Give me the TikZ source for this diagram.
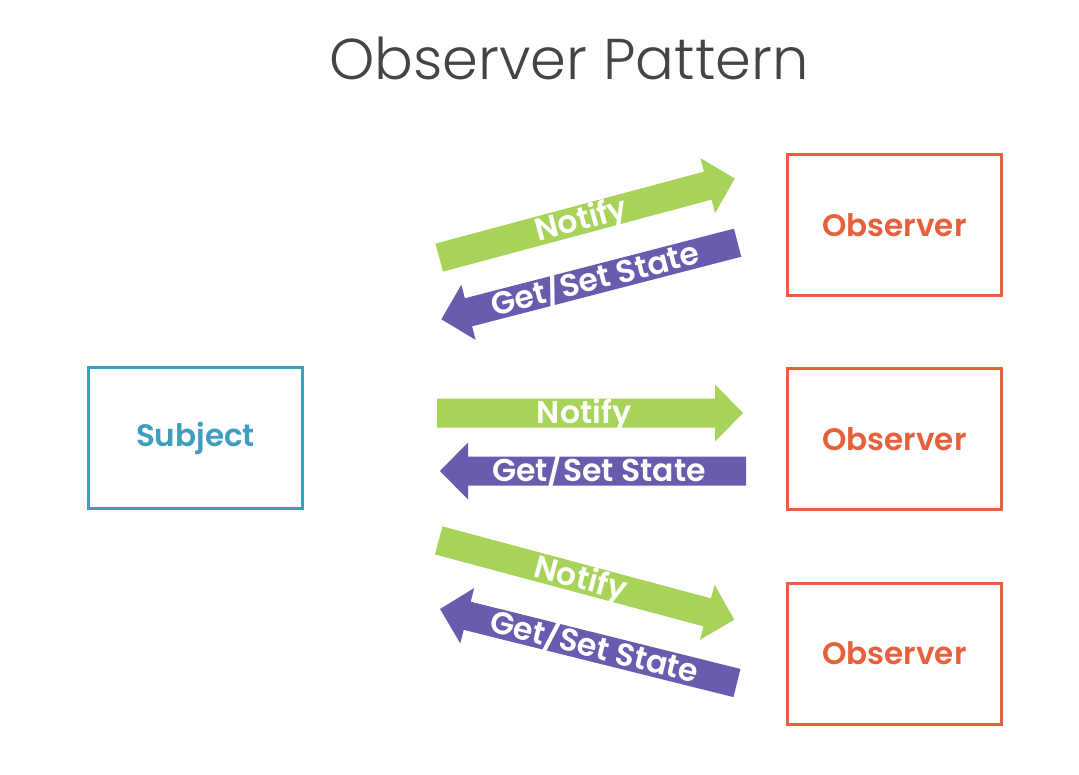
\documentclass[tikz,border=0pt]{standalone}
\usepackage{fontspec}
\setmainfont{Poppins}
\newfontfamily\titlefont{Poppins Light}
\newfontfamily\semib{Poppins SemiBold}
\definecolor{bggreen}{HTML}{A8D35B}
\definecolor{bgpurple}{HTML}{6A5BAE}
\definecolor{obsorange}{HTML}{E5603B}
\definecolor{subjteal}{HTML}{3E9EBE}
\definecolor{titlegray}{HTML}{444444}
\tikzset{
  box/.style={draw, line width=3pt, minimum width=214pt, minimum height=141pt, inner sep=0pt,
    font=\semib\fontsize{31}{35}\selectfont},
  arrowtext/.style={text=white, inner sep=0pt, text height=21pt, text depth=0pt,
    font=\semib\fontsize{31.5}{35}\selectfont},
}
\newcommand\blockarr[6]{%
  \begin{scope}[shift={#2}, rotate=#3]
    \fill[#4] (-153,-14.5) -- (125,-14.5) -- (125,-28.5) -- (153,0) -- (125,28.5) -- (125,14.5) -- (-153,14.5) -- cycle;
    \node[arrowtext, rotate=#5] (#1) at (-6,0) {#6};
  \end{scope}}
\begin{document}
\begin{tikzpicture}[x=1pt,y=-1pt]
\useasboundingbox (0,0) rectangle (1079,774);
\fill[white] (0,0) rectangle (1079,774);
\node[titlegray, inner sep=0pt, text height=40pt, text depth=0pt, font=\titlefont\fontsize{57.5}{62}\selectfont] (title) at (569,59) {Observer Pattern};
\node[box, draw=subjteal, text=subjteal] (subject) at (195.5,438) {Subject};
\node[box, draw=obsorange, text=obsorange] (obs1) at (894.5,225) {Observer};
\node[box, draw=obsorange, text=obsorange] (obs2) at (894.5,439) {Observer};
\node[box, draw=obsorange, text=obsorange] (obs3) at (894.5,653.5) {Observer};
\blockarr{n1}{(587,218)}{15}{bggreen}{15}{Notify}
\blockarr{g1}{(589.5,281)}{194.5}{bgpurple}{14.5}{Get/Set State}
\blockarr{n2}{(590,413)}{0}{bggreen}{0}{Notify}
\blockarr{g2}{(593,471)}{180}{bgpurple}{0}{Get/Set State}
\blockarr{n3}{(586.5,580)}{-15}{bggreen}{-15}{Notify}
\blockarr{g3}{(588.5,646)}{166}{bgpurple}{-14}{Get/Set State}
\end{tikzpicture}
\end{document}
